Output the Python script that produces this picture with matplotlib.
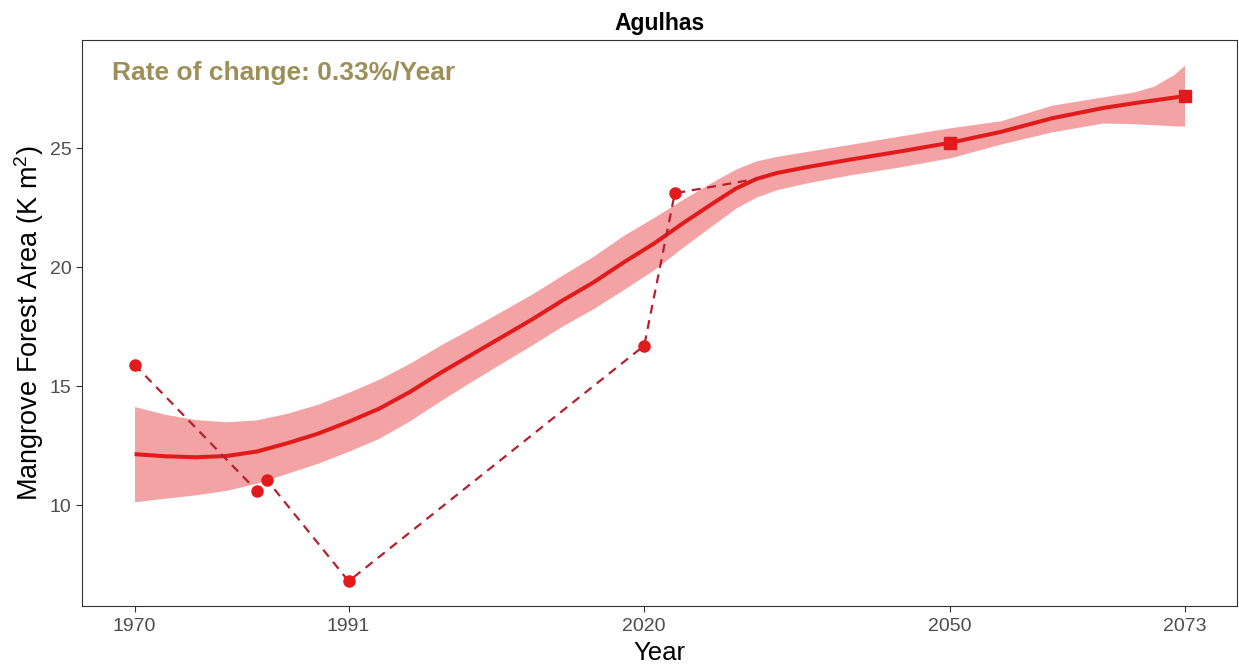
import numpy as np
import matplotlib
matplotlib.use("Agg")
import matplotlib.pyplot as plt

plt.rcParams["font.family"] = ["Liberation Sans", "DejaVu Sans"]
plt.rcParams["mathtext.fontset"] = "custom"
plt.rcParams["mathtext.rm"] = "Liberation Sans"

# -----------------------------------------------------------------------------
# DATA
# -----------------------------------------------------------------------------
obs_years = [1970, 1982, 1983, 1991, 2020, 2023]
obs_area = [15.9, 10.6, 11.05, 6.8, 16.7, 23.1]

# dashed path continues up to the fitted curve
link_years = obs_years + [2031]
link_area = obs_area + [23.7]

pred_years = [2050, 2073]
pred_area = [25.22, 27.18]

# smoothed fit and its confidence band
fit_years = [1970, 1973, 1976, 1979, 1982, 1985, 1988, 1991, 1994, 1997,
             2000, 2003, 2006, 2009, 2012, 2015, 2018, 2021, 2024, 2027,
             2029, 2031, 2033, 2036, 2040, 2045, 2050, 2055, 2060, 2065,
             2068, 2070, 2072, 2073]
fit_area = [12.14, 12.05, 12.01, 12.06, 12.25, 12.60, 13.00, 13.50, 14.05, 14.75,
            15.55, 16.30, 17.05, 17.80, 18.60, 19.35, 20.20, 21.00, 21.90, 22.75,
            23.30, 23.70, 23.95, 24.20, 24.50, 24.85, 25.22, 25.68, 26.25, 26.68,
            26.88, 27.00, 27.12, 27.18]
fit_upper = [14.14, 13.81, 13.59, 13.50, 13.58, 13.86, 14.24, 14.74, 15.29, 15.96,
             16.72, 17.42, 18.14, 18.87, 19.67, 20.45, 21.34, 22.10, 22.90, 23.65,
             24.12, 24.46, 24.65, 24.86, 25.14, 25.50, 25.85, 26.15, 26.80, 27.15,
             27.35, 27.60, 28.10, 28.48]
fit_lower = [10.14, 10.29, 10.43, 10.62, 10.92, 11.34, 11.76, 12.26, 12.81, 13.54,
             14.38, 15.18, 15.96, 16.73, 17.53, 18.25, 19.06, 19.90, 20.90, 21.85,
             22.48, 22.94, 23.25, 23.54, 23.86, 24.20, 24.59, 25.17, 25.68, 26.05,
             26.02, 25.98, 25.93, 25.92]

x_ticks = [1970, 1991, 2020, 2050, 2073]
y_ticks = [10, 15, 20, 25]

RED = "#E31A1C"
DASH_RED = "#B5202E"

# -----------------------------------------------------------------------------
# PLOT
# -----------------------------------------------------------------------------
fig = plt.figure(figsize=(12.39, 6.66), dpi=100)
ax = fig.add_axes([0.0662, 0.0901, 0.9322, 0.8499])

ax.fill_between(fit_years, fit_lower, fit_upper, color=RED, alpha=0.4,
                linewidth=0, zorder=1)
ax.plot(fit_years, fit_area, color=RED, linewidth=2.9, zorder=2,
        solid_capstyle="butt", solid_joinstyle="round")
ax.plot(link_years, link_area, color=DASH_RED, linewidth=1.6,
        linestyle=(0, (4, 3)), zorder=3)
ax.plot(obs_years, obs_area, linestyle="none", marker="o", markersize=8,
        color=RED, zorder=4)
ax.plot(pred_years, pred_area, linestyle="none", marker="s", markersize=9,
        color=RED, zorder=4)

ax.text(1967.8, 28.15, "Rate of change: 0.33%/Year", color="#9D8F57",
        fontsize=19, fontweight="bold", ha="left", va="center")

ax.set_xlim(1964.85, 2078.15)
ax.set_ylim(5.76, 29.54)
ax.set_xticks(x_ticks)
ax.set_yticks(y_ticks)
ax.tick_params(axis="both", colors="#333333", labelcolor="#4D4D4D",
               labelsize=14, length=4, width=0.8)
ax.tick_params(axis="x", pad=5)

for side in ax.spines.values():
    side.set_color("#333333")
    side.set_linewidth(0.8)

ax.set_title("Agulhas", fontsize=16.5, fontweight="bold", pad=7)
ax.set_xlabel("Year", fontsize=18.5, labelpad=4)
ax.set_ylabel("Mangrove Forest Area (K m$\\mathregular{^2}$)", fontsize=19.5,
              labelpad=3)

plt.savefig("out.png", dpi=100)
plt.close()
